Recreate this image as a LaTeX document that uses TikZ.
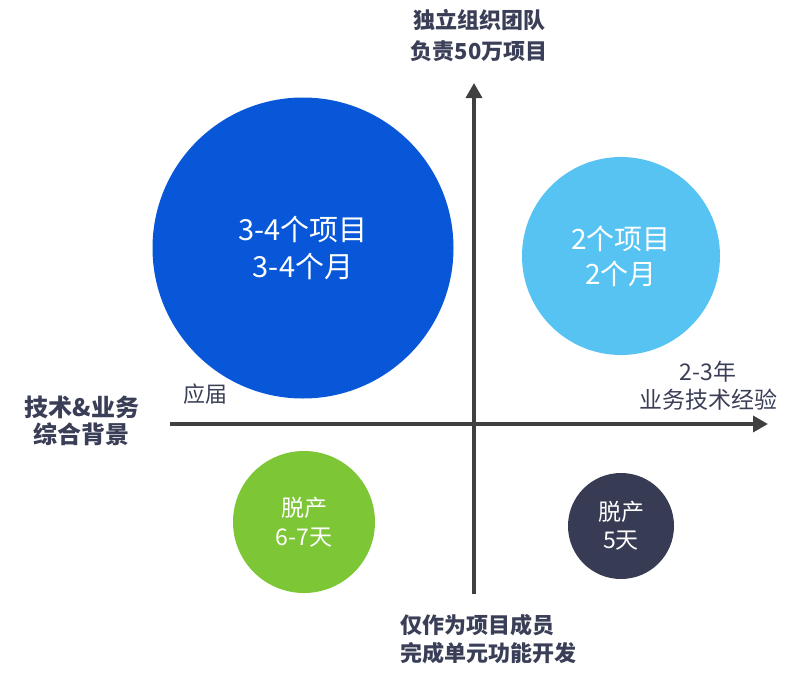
\documentclass[tikz,border=0pt]{standalone}
\usepackage{fontspec}
\newfontfamily\cjk{Noto Sans CJK SC}
\usetikzlibrary{arrows.meta,positioning}
\definecolor{deepblue}{HTML}{0757D8}
\definecolor{skyblue}{HTML}{56C3F2}
\definecolor{leafgreen}{HTML}{7DC636}
\definecolor{slatedark}{HTML}{373B53}
\definecolor{textdark}{HTML}{3A3F57}
\definecolor{axisgray}{HTML}{404040}

\begin{document}
\begin{tikzpicture}[
  x=1pt,y=-1pt,
  every node/.style={inner sep=0pt,font=\cjk},
  bubble/.style={circle,text=white,align=center},
  axistext/.style={text=textdark,align=center,font=\cjk\fontsize{23}{28}\selectfont},
  axisline/.style={-{Triangle[length=15pt,width=16pt]},line width=3.5pt,draw=axisgray}
]
\useasboundingbox (0,0) rectangle (804,683);
% axes
\coordinate (xl) at (170,424);
\coordinate (xr) at (768,424);
\coordinate (yb) at (474,594);
\coordinate (yt) at (474,83);
\draw[axisline] (xl) -- (xr);
\draw[axisline] (yb) -- (yt);
% bubbles
\node[bubble,fill=deepblue,minimum size=301pt,font=\cjk\fontsize{29}{37}\selectfont] (big) at (303,248) {3-4个项目\\3-4个月};
\node[bubble,fill=skyblue,minimum size=198pt,font=\cjk\fontsize{28}{35}\selectfont] (mid) at (621,256) {2个项目\\2个月};
\node[bubble,fill=leafgreen,minimum size=142pt,font=\cjk\fontsize{23}{29}\selectfont] (green) at (304,522) {脱产\\6-7天};
\node[bubble,fill=slatedark,minimum size=106pt,font=\cjk\fontsize{23}{28}\selectfont] (dark) at (621,526) {脱产\\5天};
% axis texts
\node[axistext,font=\cjk\bfseries\fontsize{22}{31}\selectfont] (top) at (479,36) {独立组织团队\\负责50万项目};
\node[axistext,font=\cjk\bfseries\fontsize{24}{27}\selectfont] (left) at (82,421) {技术\&业务\\综合背景};
\node[axistext,font=\cjk\fontsize{22}{28}\selectfont] (fresh) at (205,394) {应届};
\node[axistext] (right) at (708,386) {2-3年\\业务技术经验};
\node[axistext,align=left,anchor=west,font=\cjk\bfseries\fontsize{22}{28}\selectfont] (bottom) at (400,639) {仅作为项目成员\\完成单元功能开发};
\end{tikzpicture}
\end{document}
